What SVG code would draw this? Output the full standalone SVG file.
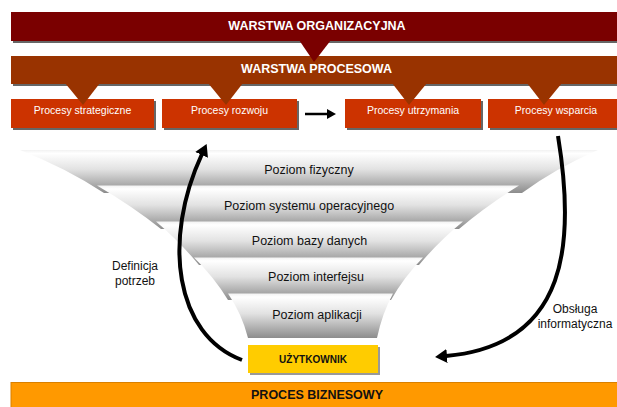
<svg xmlns="http://www.w3.org/2000/svg" width="617" height="407" viewBox="0 0 617 407">
<defs>
<style>
text{font-family:"Liberation Sans",Arial,sans-serif;text-anchor:middle}
.bar{font-size:12.5px;font-weight:bold;fill:#fff}
.box{fill:#cc3300}
.boxt{font-size:10.5px;fill:#fff}
.shadow{fill:#333;opacity:.75}
.lvl{fill:url(#g)}
.lvlt{font-size:12.5px;fill:#111}
.side{font-size:12px;fill:#111}
.big{fill:none;stroke:#000;stroke-width:4}
</style>
<linearGradient id="g" x1="0" y1="0" x2="0" y2="1">
<stop offset="0" stop-color="#f2f2f2"/>
<stop offset="0.08" stop-color="#ffffff"/>
<stop offset="0.45" stop-color="#e2e2e2"/>
<stop offset="1" stop-color="#8c8c8c"/>
</linearGradient>
<marker id="ah" viewBox="0 0 12 14" refX="1" refY="7" markerWidth="12" markerHeight="14" markerUnits="userSpaceOnUse" orient="auto">
<path d="M0,0 L12,7 L0,14 z" fill="#000"/>
</marker>
<marker id="ahs" viewBox="0 0 9 10" refX="1" refY="5" markerWidth="9" markerHeight="10" markerUnits="userSpaceOnUse" orient="auto">
<path d="M0,0 L9,5 L0,10 z" fill="#000"/>
</marker>
</defs>
<rect width="617" height="407" fill="#fff"/>

<g id="warstwa-procesowa">
<rect class="shadow" x="13" y="58" width="610" height="28"/>
<rect x="11" y="56" width="610" height="28" fill="#993300"/>
<text class="bar" x="316.5" y="73">WARSTWA PROCESOWA</text>
</g>

<g id="warstwa-organizacyjna">
<rect class="shadow" x="13" y="14" width="610" height="29"/>
<rect x="11" y="12" width="610" height="29" fill="#7a0000"/>
<polygon points="299,40 331,40 314,62" fill="#7a0000"/>
<text class="bar" x="317" y="30">WARSTWA ORGANIZACYJNA</text>
</g>

<g id="procesy-strategiczne">
<rect class="shadow" x="13" y="101" width="143" height="29"/>
<rect class="box" x="11" y="99" width="143" height="29"/>
<text class="boxt" x="82.5" y="114">Procesy strategiczne</text>
</g>
<g id="procesy-rozwoju">
<rect class="shadow" x="164" y="101" width="135" height="29"/>
<rect class="box" x="162" y="99" width="135" height="29"/>
<text class="boxt" x="229.5" y="114">Procesy rozwoju</text>
</g>
<g id="procesy-utrzymania">
<rect class="shadow" x="347" y="101" width="136" height="29"/>
<rect class="box" x="345" y="99" width="136" height="29"/>
<text class="boxt" x="413" y="114">Procesy utrzymania</text>
</g>
<g id="procesy-wsparcia">
<rect class="shadow" x="490" y="101" width="140" height="29"/>
<rect class="box" x="488" y="99" width="140" height="29"/>
<text class="boxt" x="556" y="114">Procesy wsparcia</text>
</g>

<g id="wskazniki-procesowe" fill="#993300">
<polygon points="65,83 100,83 83,105"/>
<polygon points="208,83 243,83 226,105"/>
<polygon points="392,83 427,83 409,105"/>
<polygon points="527,83 562,83 544,105"/>
</g>

<g id="poziom-fizyczny">
<path class="lvl" d="M20,150 L598,150 Q556,168 522,193 L104,193 Q66,168 20,150 z"/>
<text class="lvlt" x="309" y="174">Poziom fizyczny</text>
</g>
<g id="poziom-systemu">
<path class="lvl" d="M97,185.5 L519,185.5 Q486,206 459,229 L161,229 Q132,206 97,185.5 z"/>
<text class="lvlt" x="309" y="210">Poziom systemu operacyjnego</text>
</g>
<g id="poziom-bazy">
<path class="lvl" d="M156,221.5 L463,221.5 Q438,242 419,265 L199,265 Q180,242 156,221.5 z"/>
<text class="lvlt" x="309.5" y="245">Poziom bazy danych</text>
</g>
<g id="poziom-interfejsu">
<path class="lvl" d="M194,257.5 L423,257.5 Q404,277 391,300 L228,300 Q214,277 194,257.5 z"/>
<text class="lvlt" x="316" y="281">Poziom interfejsu</text>
</g>
<g id="poziom-aplikacji">
<path class="lvl" d="M228,293.5 L393,293.5 Q382,314 377,338 L248,338 Q242,314 228,293.5 z"/>
<text class="lvlt" x="317" y="319">Poziom aplikacji</text>
</g>

<g id="uzytkownik">
<rect x="250" y="347" width="130" height="28" fill="#999"/>
<rect x="248" y="345" width="130" height="28" fill="#ffcc00"/>
<text x="313" y="363" style="font-size:10px;font-weight:bold;fill:#111">UŻYTKOWNIK</text>
</g>

<g id="proces-biznesowy">
<rect x="11" y="382.5" width="615" height="30" fill="#ff9900" stroke="#d98000" stroke-width="1"/>
<text class="bar" x="317" y="398.5" style="fill:#111">PROCES BIZNESOWY</text>
</g>

<g id="etykiety">
<text class="side" x="135" y="270">Definicja</text>
<text class="side" x="135" y="285">potrzeb</text>
<text class="side" x="575" y="313">Obsługa</text>
<text class="side" x="575" y="328">informatyczna</text>
</g>

<g id="connectors">
<line x1="305" y1="114" x2="328" y2="114" stroke="#000" stroke-width="2.5" marker-end="url(#ahs)"/>
<path class="big" d="M242,360 C175,335 162,240 202,154" marker-end="url(#ah)"/>
<path class="big" d="M558,136 C575,240 570,345 446,356" marker-end="url(#ah)"/>
</g>
</svg>
